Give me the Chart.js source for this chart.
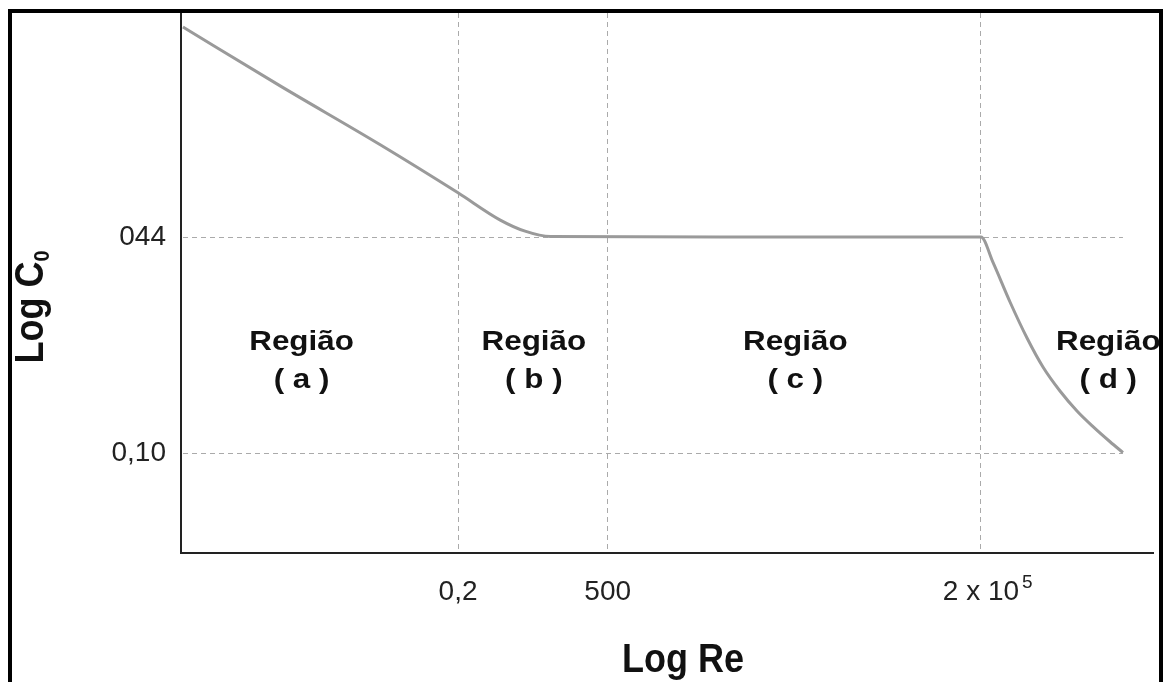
<!DOCTYPE html>
<html>
<head>
<meta charset="utf-8">
<script src="https://cdn.jsdelivr.net/npm/chart.js@4.4.1/dist/chart.umd.min.js"></script>
<style>
html, body { margin: 0; padding: 0; background: #fff; }
</style>
</head>
<body>
<canvas id="myChart" width="1165" height="682"></canvas>
<script>
/*==== data (schematic units: x = Log Re, y = Log C0) ====*/
const curveX = [0.2, 10.2, 20.5, 28.5, 32.8, 35.4, 38.0, 60.0, 82.3, 83.54, 85.29, 87.04, 88.68, 90.43, 92.18, 93.83, 95.58, 96.91];
const curveY = [97.4, 86.5, 75.6, 66.7, 61.7, 59.6, 58.6, 58.5, 58.5, 53.8, 46.48, 39.81, 34.44, 30.0, 26.3, 23.4, 20.6, 18.6];

const xTickValues = [28.5, 43.9, 82.3];
const xTickLabels = ['0,2', '500', '2 x 10'];
const xTickSup = ['', '', '5'];
const yTickValues = [18.5, 58.5];
const yTickLabels = ['0,10', '044'];

const regionNames = ['Região', 'Região', 'Região', 'Região'];
const regionLetters = ['( a )', '( b )', '( c )', '( d )'];

const FONT = "'Liberation Sans', Arial, sans-serif";

/*==== drawing helpers ====*/
const extrasPlugin = {
    id: 'extras',
    beforeDatasetsDraw(chart) {
        // horizontal dashed guides, they stop at the end of the curve
        const {ctx, chartArea, scales} = chart;
        const xEnd = scales.x.getPixelForValue(curveX[curveX.length - 1]);
        ctx.save();
        ctx.strokeStyle = '#aaaaaa';
        ctx.lineWidth = 1;
        ctx.setLineDash([5, 4]);
        yTickValues.forEach(v => {
            const y = Math.round(scales.y.getPixelForValue(v)) + 0.5;
            ctx.beginPath();
            ctx.moveTo(chartArea.left + 2, y);
            ctx.lineTo(xEnd, y);
            ctx.stroke();
        });
        ctx.restore();
    },
    afterDraw(chart) {
        const {ctx, scales, chartArea} = chart;
        const opts = chart.options.plugins.extras;

        // superscripts on x tick labels
        ctx.save();
        ctx.fillStyle = '#222';
        ctx.textBaseline = 'alphabetic';
        ctx.textAlign = 'left';
        xTickSup.forEach((sup, i) => {
            if (!sup) return;
            ctx.font = '28px ' + FONT;
            const w = ctx.measureText(xTickLabels[i]).width;
            const x = scales.x.getPixelForValue(xTickValues[i]) + w / 2 + 3;
            ctx.font = '19px ' + FONT;
            ctx.fillText(sup, x, chartArea.bottom + 35);
        });
        ctx.restore();

        // region labels
        ctx.save();
        ctx.fillStyle = '#111';
        ctx.textAlign = 'center';
        ctx.textBaseline = 'alphabetic';
        regionNames.forEach((name, i) => {
            const cx = scales.x.getPixelForValue(opts.regionX[i]);
            ctx.save();
            ctx.translate(cx, 0);
            ctx.scale(1.12, 1);
            ctx.font = 'bold 28px ' + FONT;
            ctx.fillText(name, 0, scales.y.getPixelForValue(opts.nameY));
            ctx.fillText(regionLetters[i], 0, scales.y.getPixelForValue(opts.letterY));
            ctx.restore();
        });
        ctx.restore();

        // x title
        ctx.save();
        ctx.fillStyle = '#111';
        ctx.textAlign = 'center';
        ctx.textBaseline = 'alphabetic';
        ctx.translate(683, 672);
        ctx.scale(0.9, 1);
        ctx.font = 'bold 40px ' + FONT;
        ctx.fillText('Log Re', 0, 0);
        ctx.restore();

        // y title with subscript
        ctx.save();
        ctx.fillStyle = '#111';
        ctx.translate(43, 307);
        ctx.rotate(-Math.PI / 2);
        ctx.scale(0.9, 1);
        ctx.font = 'bold 40px ' + FONT;
        const w1 = ctx.measureText('Log C').width;
        ctx.font = 'bold 22px ' + FONT;
        const w2 = ctx.measureText('0').width;
        const start = -(w1 + w2) / 2;
        ctx.textAlign = 'left';
        ctx.font = 'bold 40px ' + FONT;
        ctx.fillText('Log C', start, 0);
        ctx.font = 'bold 22px ' + FONT;
        ctx.fillText('0', start + w1, 6);
        ctx.restore();

        // outer frame
        ctx.save();
        ctx.strokeStyle = '#000';
        ctx.lineWidth = 4;
        ctx.strokeRect(10, 11, 1151, 720);
        ctx.restore();
    }
};

/*=== config ====*/
const config = {
    type: 'line',
    data: {
        datasets: [{
            data: curveX.map((x, i) => ({x: x, y: curveY[i]})),
            borderColor: '#9a9a9a',
            borderWidth: 3,
            pointRadius: 0,
            fill: false,
            cubicInterpolationMode: 'monotone'
        }]
    },
    options: {
        responsive: false,
        animation: false,
        layout: {padding: {left: 0, top: 13, right: 12, bottom: 0}},
        plugins: {
            legend: {display: false},
            tooltip: {enabled: false},
            extras: {
                regionX: [12.4, 36.3, 63.2, 95.4],
                nameY: 37.6,
                letterY: 30.6
            }
        },
        scales: {
            x: {
                type: 'linear',
                min: 0,
                max: 100,
                afterBuildTicks: s => { s.ticks = xTickValues.map(v => ({value: v})); },
                afterFit: s => { s.height = 129; s.paddingLeft = 0; s.paddingRight = 0; },
                ticks: {
                    autoSkip: false,
                    maxRotation: 0,
                    padding: 22,
                    color: '#222',
                    font: {family: FONT, size: 28},
                    callback: (v, i) => xTickLabels[i]
                },
                grid: {color: '#aaaaaa', lineWidth: 1, drawTicks: false},
                border: {display: true, color: '#222', width: 2, dash: [5, 4]}
            },
            y: {
                type: 'linear',
                min: 0,
                max: 100,
                afterBuildTicks: s => { s.ticks = yTickValues.map(v => ({value: v})); },
                afterFit: s => { s.width = 181; s.paddingTop = 0; s.paddingBottom = 0; },
                ticks: {
                    autoSkip: false,
                    padding: 15,
                    color: '#222',
                    font: {family: FONT, size: 28},
                    callback: (v, i) => yTickLabels[i]
                },
                grid: {display: false, drawTicks: false},
                border: {display: true, color: '#222', width: 2}
            }
        }
    },
    plugins: [extrasPlugin]
};

/*===== render =====*/
const myChart = new Chart(document.getElementById('myChart'), config);
</script>
</body>
</html>
